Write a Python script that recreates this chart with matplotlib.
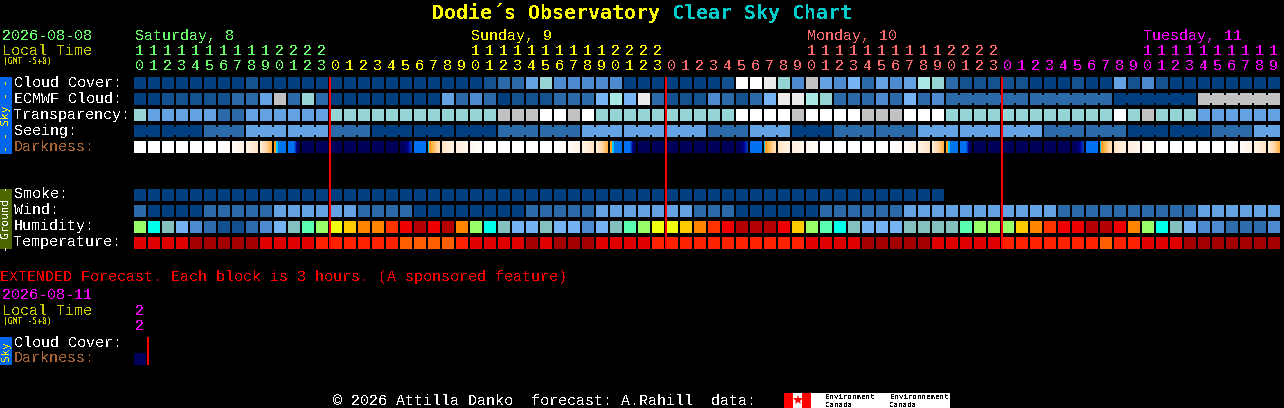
import numpy as np
import matplotlib
matplotlib.use("Agg")
import matplotlib.pyplot as plt
from matplotlib.colors import LinearSegmentedColormap
from matplotlib.patches import Rectangle

plt.rcParams['font.family'] = ['Liberation Mono', 'DejaVu Sans Mono']
plt.rcParams['text.antialiased'] = False

# Palettes
cloud_colors = ['#003f7f', '#13528f', '#2b6aa9', '#4c8bcf', '#63a3e3', '#75b5f5',
                '#95d5d5', '#a9e9e5', '#c2c2c2', '#ebebeb', '#ffffff']
humidity_colors = ['#b30000', '#ee0000', '#ff3300', '#ff8400', '#ffca00', '#f0ff10',
                   '#98ff68', '#5affb0', '#00ffe8', '#83c0c0', '#73b3f3', '#4c8bcf',
                   '#2d6dae', '#134f8f']
temp_colors = ['#a50000', '#e00000', '#ff2200', '#ff5f00']
darkness_nodes = [(0, '#ffffff'), (8, '#fff7ee'), (20, '#ffeedd'), (30, '#ffe4c4'),
                  (45, '#ffd49c'), (62, '#ffb040'), (70, '#ffa020'), (73, '#ffa020'),
                  (73.01, '#00d0ff'), (76, '#00c0ff'), (77, '#0078f0'), (96, '#0070f0'),
                  (97, '#0040c0'), (98, '#000090'), (99, '#000060'), (100, '#00005a')]

# Rows, one value per hour: Sat 10-23, Sun, Mon, Tue 0-19
cloud_cover = [0, 0, 0, 0, 0, 0, 0, 0, 1, 0, 0, 0, 0, 0,
               0, 0, 0, 0, 0, 0, 0, 0, 0, 0, 0, 1, 2, 2, 4, 6, 3, 3, 3, 3, 3, 0, 0, 0,
               0, 0, 0, 0, 1, 10, 10, 9, 6, 3, 8, 4, 3, 5, 2, 4, 3, 4, 7, 6, 2, 1, 1, 1,
               1, 1, 0, 0, 0, 1, 0, 0, 4, 1, 3, 1, 0, 0, 0, 0, 0, 0, 0, 0]
ecmwf_cloud = [0, 0, 1, 1, 1, 1, 1, 2, 2, 4, 8, 2, 6, 2,
               0, 0, 0, 0, 0, 0, 0, 0, 4, 2, 3, 2, 0, 1, 1, 1, 2, 2, 2, 5, 7, 5, 9, 2,
               1, 1, 1, 3, 2, 1, 2, 5, 9, 9, 7, 6, 2, 2, 2, 3, 2, 5, 2, 3, 2, 2, 2, 2,
               2, 2, 2, 2, 2, 2, 2, 2, 0, 0, 0, 0, 0, 0, 8, 8, 8, 8, 8, 8]
transparency = [6, 4, 4, 4, 4, 4, 2, 2, 4, 4, 4, 4, 4, 4,
                6, 6, 6, 6, 6, 6, 6, 6, 6, 6, 6, 6, 8, 8, 8, 10, 10, 8, 10, 6, 6, 6, 6, 6,
                6, 6, 6, 6, 6, 10, 10, 10, 10, 8, 10, 10, 10, 10, 8, 8, 8, 10, 10, 10, 6, 6, 6, 6,
                6, 6, 6, 6, 6, 6, 6, 6, 10, 6, 8, 6, 6, 6, 4, 4, 4, 4, 4, 4]
seeing = [0, 0, 0, 0, 0, 2, 2, 2, 4, 4, 4, 4, 4, 4,
          2, 2, 2, 0, 0, 0, 0, 0, 0, 0, 0, 0, 2, 2, 2, 2, 2, 2, 4, 4, 4, 4, 4, 4,
          4, 4, 4, 2, 2, 2, 4, 4, 4, 0, 0, 0, 2, 2, 2, 2, 2, 2, 4, 4, 4, 4, 4, 4,
          4, 4, 4, 2, 2, 2, 2, 2, 2, 0, 0, 0, 0, 0, 0, 2, 2, 2, 4, 4]
darkness_left = [0, 0, 0, 0, 0, 0, 0, 2, 14, 22, 70, 92, 100, 100,
                 100, 100, 100, 100, 100, 100, 92, 76, 30, 20, 8, 0, 0, 0, 0, 0, 0, 2, 14, 22, 70, 92, 100, 100,
                 100, 100, 100, 100, 100, 100, 92, 76, 30, 20, 8, 0, 0, 0, 0, 0, 0, 2, 14, 22, 70, 92, 100, 100,
                 100, 100, 100, 100, 100, 100, 92, 76, 30, 20, 8, 0, 0, 0, 0, 0, 0, 2, 14, 22]
darkness_right = [0, 0, 0, 0, 0, 0, 3, 14, 30, 62, 92, 100, 100, 100,
                  100, 100, 100, 100, 100, 97, 92, 35, 14, 8, 2, 0, 0, 0, 0, 0, 3, 14, 30, 62, 92, 100, 100, 100,
                  100, 100, 100, 100, 100, 97, 92, 35, 14, 8, 2, 0, 0, 0, 0, 0, 3, 14, 30, 62, 92, 100, 100, 100,
                  100, 100, 100, 100, 100, 97, 92, 35, 14, 8, 2, 0, 0, 0, 0, 0, 3, 14, 30, 62]
smoke = [0] * 58
wind = [2, 0, 0, 0, 0, 2, 2, 2, 2, 2, 4, 4, 4, 4,
        4, 4, 2, 2, 2, 2, 0, 0, 0, 0, 0, 0, 0, 0, 2, 2, 2, 2, 2, 4, 4, 4, 4, 4,
        4, 4, 2, 2, 2, 0, 0, 0, 0, 0, 0, 2, 2, 2, 2, 2, 2, 4, 4, 4, 4, 4, 4, 4,
        4, 4, 4, 4, 2, 2, 2, 2, 2, 2, 2, 2, 2, 2, 4, 4, 4, 4, 4, 4]
humidity = [6, 8, 9, 10, 11, 12, 13, 13, 12, 11, 10, 9, 7, 6,
            5, 4, 3, 3, 2, 1, 0, 1, 0, 3, 6, 8, 9, 10, 10, 9, 10, 10, 11, 10, 9, 7, 6, 5,
            5, 4, 3, 2, 1, 0, 0, 0, 1, 4, 6, 7, 8, 9, 10, 10, 10, 9, 9, 9, 9, 7, 6, 6,
            6, 4, 3, 2, 1, 1, 0, 0, 1, 3, 6, 8, 9, 10, 11, 11, 12, 12, 12, 11]
temperature = [1, 1, 1, 1, 0, 0, 0, 0, 0, 1, 1, 1, 1, 2,
               2, 2, 2, 2, 2, 3, 3, 3, 3, 2, 1, 1, 1, 1, 0, 1, 0, 0, 0, 1, 1, 1, 1, 2,
               2, 2, 2, 2, 2, 2, 2, 2, 2, 2, 1, 1, 1, 1, 0, 0, 0, 0, 0, 1, 1, 1, 1, 1,
               2, 2, 2, 2, 2, 2, 2, 3, 2, 2, 1, 1, 1, 0, 0, 0, 0, 0, 0, 0]

# Runs of hours that come from one forecast block (drawn joined together)
seeing_groups = [0, 2, 5, 8, 11, 14, 17, 20, 23, 26, 29, 32, 35, 38, 41, 44, 47, 50,
                 53, 56, 59, 62, 65, 68, 71, 74, 77, 80]
ecmwf_groups = [58, 64, 70, 76]

hours = [10, 11, 12, 13, 14, 15, 16, 17, 18, 19, 20, 21, 22, 23] + list(range(24)) * 2 + list(range(20))
day_starts = [0, 14, 38, 62]
day_names = ['Saturday, 8', 'Sunday, 9', 'Monday, 10', 'Tuesday, 11']
day_colors = ['#66ff66', '#ffff00', '#ff6a6a', '#ff00ff']
midnights = [14, 38, 62]

X0 = 134
PITCH = 14
SIZE = 12
BLACK = '#000000'
WHITE = '#ffffff'
SMALL_FONT = 'DejaVu Sans Mono'


def px(size):
    """Font size in points for a size in pixels at dpi 100."""
    return size * 0.72


def block_x(col):
    return X0 + PITCH * col


def draw_rect(ax, x, y, w, h, color, zorder=2):
    ax.add_patch(Rectangle((x, y), w, h, facecolor=color, edgecolor='none',
                           linewidth=0, antialiased=False, zorder=zorder))


def draw_row(ax, top, values, palette, groups=None):
    for col, val in enumerate(values):
        draw_rect(ax, block_x(col), top, SIZE, SIZE, palette[val])
    if groups is None:
        return
    # thin strip across the gap between hours of one block
    for start, end in zip(groups, groups[1:] + [len(values)]):
        for col in range(start, end - 1):
            draw_rect(ax, block_x(col) + SIZE, top + 2, PITCH - SIZE, SIZE - 4, palette[values[col]])


def draw_darkness(ax, top, lefts, rights, cmap):
    for col, (lo, hi) in enumerate(zip(lefts, rights)):
        strip = (np.linspace(lo, hi, SIZE) / 100.0).reshape(1, -1)
        ax.imshow(strip, cmap=cmap, vmin=0, vmax=1, aspect='auto', interpolation='nearest',
                  extent=(block_x(col), block_x(col) + SIZE, top + SIZE, top), zorder=2)


def label(ax, x, y, text, color=WHITE, size=15, **kw):
    ax.text(x, y, text, color=color, fontsize=px(size), va='baseline', ha=kw.pop('ha', 'left'), **kw)


def side_bar(ax, top, height, color, text, text_color):
    draw_rect(ax, 0, top, 12, height, color)
    ax.text(6, top + height / 2, text, color=text_color, fontsize=px(11), rotation=90,
            ha='center', va='center', family=SMALL_FONT)


def main():
    dark_cmap = LinearSegmentedColormap.from_list(
        'darkness', [(v / 100.0, c) for v, c in darkness_nodes], N=1024)

    fig = plt.figure(figsize=(12.84, 4.08), dpi=100, facecolor=BLACK)
    ax = fig.add_axes([0, 0, 1, 1])
    ax.set_facecolor(BLACK)
    ax.axis('off')

    # Title
    ax.text(432, 19, "Dodie\u00b4s Observatory", color='#ffff00', fontsize=px(20),
            fontweight='bold', family=SMALL_FONT)
    ax.text(672, 19, "Clear Sky Chart", color='#00cccc', fontsize=px(20),
            fontweight='bold', family=SMALL_FONT)

    # Header
    label(ax, 2, 40, '2026-08-08', '#66ff66')
    label(ax, 2, 55, 'Local Time', '#cccc00')
    label(ax, 3, 64, '(GMT -5+0)', '#cccc00', size=8, family=SMALL_FONT)
    day_ends = day_starts[1:] + [len(hours)]
    for name, color, start, end in zip(day_names, day_colors, day_starts, day_ends):
        col_text = start if start == 0 else start + 10
        label(ax, block_x(col_text) + 1, 40, name, color)
        for col in range(start, end):
            hour = hours[col]
            if hour >= 10:
                label(ax, block_x(col) + 5.5, 55, str(hour // 10), color, ha='center')
            label(ax, block_x(col) + 5.5, 70, str(hour % 10), color, ha='center')

    # Row names
    sky_rows = ['Cloud Cover:', 'ECMWF Cloud:', 'Transparency:', 'Seeing:']
    for base, name in zip([87, 103, 119, 135], sky_rows):
        label(ax, 14, base, name)
    label(ax, 14, 151, 'Darkness:', '#a86432')
    for base, name in zip([198, 214, 230, 246], ['Smoke:', 'Wind:', 'Humidity:', 'Temperature:']):
        label(ax, 14, base, name)

    side_bar(ax, 77, 77, '#0066ee', '- - Sky - -', '#ffff00')
    side_bar(ax, 189, 60, '#4c6600', '- Ground -', WHITE)

    # Blocks
    draw_row(ax, 77, cloud_cover, cloud_colors)
    draw_row(ax, 93, ecmwf_cloud, cloud_colors, ecmwf_groups)
    draw_row(ax, 109, transparency, cloud_colors)
    draw_row(ax, 125, seeing, cloud_colors, seeing_groups)
    draw_darkness(ax, 141, darkness_left, darkness_right, dark_cmap)
    draw_row(ax, 189, smoke, cloud_colors)
    draw_row(ax, 205, wind, cloud_colors)
    draw_row(ax, 221, humidity, humidity_colors)
    draw_row(ax, 237, temperature, temp_colors)

    for col in midnights:
        draw_rect(ax, block_x(col) - 1, 77, 2, 172, '#ff0000', zorder=3)

    # Extended forecast
    label(ax, 0, 281, 'EXTENDED Forecast. Each block is 3 hours. (A sponsored feature)', '#ff0000')
    label(ax, 2, 299, '2026-08-11', '#ff00ff')
    label(ax, 2, 315, 'Local Time', '#cccc00')
    label(ax, 3, 324, '(GMT -5+0)', '#cccc00', size=8, family=SMALL_FONT)
    label(ax, block_x(0) + 5.5, 315, '2', '#ff00ff', ha='center')
    label(ax, block_x(0) + 5.5, 330, '2', '#ff00ff', ha='center')
    label(ax, 14, 347, 'Cloud Cover:')
    label(ax, 14, 362, 'Darkness:', '#a86432')
    side_bar(ax, 337, 28, '#0066ee', 'Sky', '#ffff00')
    draw_darkness(ax, 353, [100], [100], dark_cmap)
    draw_rect(ax, 147, 337, 2, 28, '#ff0000', zorder=3)

    # Footer
    label(ax, 333, 405, '\u00a9 2026 Attilla Danko  forecast: A.Rahill  data:')
    draw_rect(ax, 784, 393, 166, 15, WHITE)
    draw_rect(ax, 784, 393, 9, 15, '#ff0000', zorder=3)
    draw_rect(ax, 802, 393, 9, 15, '#ff0000', zorder=3)
    ax.plot([797.5], [400], marker='*', markersize=7.5, color='#ff0000', markeredgewidth=0, zorder=3)
    label(ax, 825, 399, 'Environment', BLACK, size=7.5, zorder=3, family=SMALL_FONT)
    label(ax, 825, 407, 'Canada', BLACK, size=7.5, zorder=3, family=SMALL_FONT)
    label(ax, 890, 399, 'Environnement', BLACK, size=7.5, zorder=3, family=SMALL_FONT)
    label(ax, 890, 407, 'Canada', BLACK, size=7.5, zorder=3, family=SMALL_FONT)

    ax.set_xlim(0, 1284)
    ax.set_ylim(408, 0)
    fig.savefig('out.png', dpi=100, facecolor=BLACK)


if __name__ == "__main__":
    main()
